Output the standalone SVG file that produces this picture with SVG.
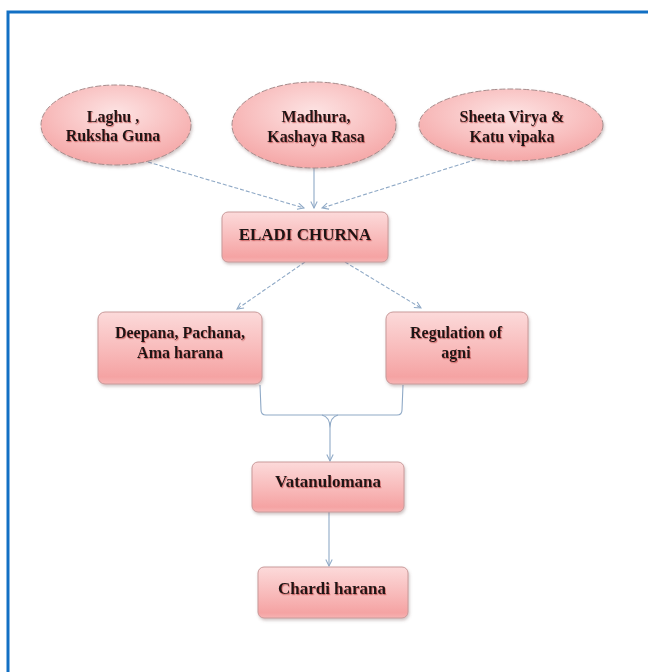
<svg xmlns="http://www.w3.org/2000/svg" width="648" height="672" viewBox="0 0 648 672">
  <defs>
    <linearGradient id="boxFill" x1="0" y1="0" x2="0" y2="1">
      <stop offset="0" stop-color="#fcdada"/>
      <stop offset="0.55" stop-color="#f8b9b9"/>
      <stop offset="0.9" stop-color="#f5a3a3"/>
      <stop offset="1" stop-color="#f7b3b3"/>
    </linearGradient>
    <radialGradient id="ellFill" cx="0.5" cy="0.35" r="0.7">
      <stop offset="0" stop-color="#fde3e3"/>
      <stop offset="0.6" stop-color="#f8bdbd"/>
      <stop offset="1" stop-color="#f4a2a2"/>
    </radialGradient>
    <filter id="shadow" x="-10%" y="-10%" width="125%" height="135%">
      <feDropShadow dx="1" dy="2" stdDeviation="1.5" flood-color="#7a5a5a" flood-opacity="0.35"/>
    </filter>
    <filter id="txtShadow" x="-5%" y="-20%" width="110%" height="150%">
      <feDropShadow dx="0.8" dy="1.2" stdDeviation="0.4" flood-color="#b03030" flood-opacity="0.55"/>
    </filter>
    <marker id="arrow" viewBox="0 0 10 10" refX="9" refY="5" markerWidth="8" markerHeight="8" orient="auto" markerUnits="userSpaceOnUse">
      <path d="M1,1 L9,5 L1,9" fill="none" stroke="#8fa9c6" stroke-width="1.3"/>
    </marker>
  </defs>
  <style>
    .box { fill: url(#boxFill); stroke: #c99a9a; stroke-width: 1; filter: url(#shadow); }
    .ell { fill: url(#ellFill); stroke: #a88c8c; stroke-width: 1; stroke-dasharray: 6 2; filter: url(#shadow); }
    .lbl { font-family: "Liberation Serif", "Times New Roman", serif; font-weight: bold; font-size: 16px; fill: #1e1414; text-anchor: middle; filter: url(#txtShadow); }
    .big { font-size: 17px; }
    .conn { fill: none; stroke: #8fa9c6; stroke-width: 1.1; }
    .dash { stroke-dasharray: 4 2; }
    .frame { stroke: #1270c4; stroke-width: 3; fill: none; }
  </style>

  <rect width="648" height="672" fill="#ffffff"/>
  <path class="frame" d="M8,672 L8,12 L648,12"/>

  <g id="connectors">
    <line class="conn dash" x1="148" y1="162" x2="304" y2="208" marker-end="url(#arrow)"/>
    <line class="conn" x1="314" y1="168" x2="314" y2="208" marker-end="url(#arrow)"/>
    <line class="conn dash" x1="487" y1="156" x2="322" y2="208" marker-end="url(#arrow)"/>
    <line class="conn dash" x1="305" y1="262" x2="237" y2="309" marker-end="url(#arrow)"/>
    <line class="conn dash" x1="345" y1="262" x2="421" y2="308" marker-end="url(#arrow)"/>
    <path class="conn" d="M260,385 L261,410 Q261,415 266,415 L397,415 Q402,415 402,410 L403,385"/>
    <path class="conn" d="M322,415 Q330,417 330,428 M338,415 Q330,417 330,428"/>
    <line class="conn" x1="330" y1="428" x2="330" y2="461" marker-end="url(#arrow)"/>
    <line class="conn" x1="329" y1="512" x2="329" y2="566" marker-end="url(#arrow)"/>
  </g>

  <g id="laghu">
    <ellipse class="ell" cx="116" cy="125" rx="75" ry="40"/>
    <text class="lbl" x="113" y="122">Laghu ,</text>
    <text class="lbl" x="113" y="141">Ruksha Guna</text>
  </g>
  <g id="madhura">
    <ellipse class="ell" cx="314" cy="125" rx="82" ry="43"/>
    <text class="lbl" x="316" y="122">Madhura,</text>
    <text class="lbl" x="316" y="142">Kashaya Rasa</text>
  </g>
  <g id="sheeta">
    <ellipse class="ell" cx="511" cy="125" rx="92" ry="36"/>
    <text class="lbl" x="512" y="122">Sheeta Virya &amp;</text>
    <text class="lbl" x="512" y="142">Katu vipaka</text>
  </g>
  <g id="eladi">
    <rect class="box" x="222" y="212" width="166" height="50" rx="6"/>
    <text class="lbl big" x="305" y="240">ELADI CHURNA</text>
  </g>
  <g id="deepana">
    <rect class="box" x="98" y="312" width="164" height="72" rx="7"/>
    <text class="lbl" x="180" y="338">Deepana, Pachana,</text>
    <text class="lbl" x="180" y="358">Ama harana</text>
  </g>
  <g id="regulation">
    <rect class="box" x="386" y="312" width="142" height="72" rx="7"/>
    <text class="lbl" x="456" y="338">Regulation of</text>
    <text class="lbl" x="456" y="358">agni</text>
  </g>
  <g id="vatanulomana">
    <rect class="box" x="252" y="462" width="152" height="50" rx="6"/>
    <text class="lbl big" x="328" y="487">Vatanulomana</text>
  </g>
  <g id="chardi">
    <rect class="box" x="258" y="567" width="150" height="51" rx="6"/>
    <text class="lbl big" x="332" y="594">Chardi harana</text>
  </g>
</svg>
